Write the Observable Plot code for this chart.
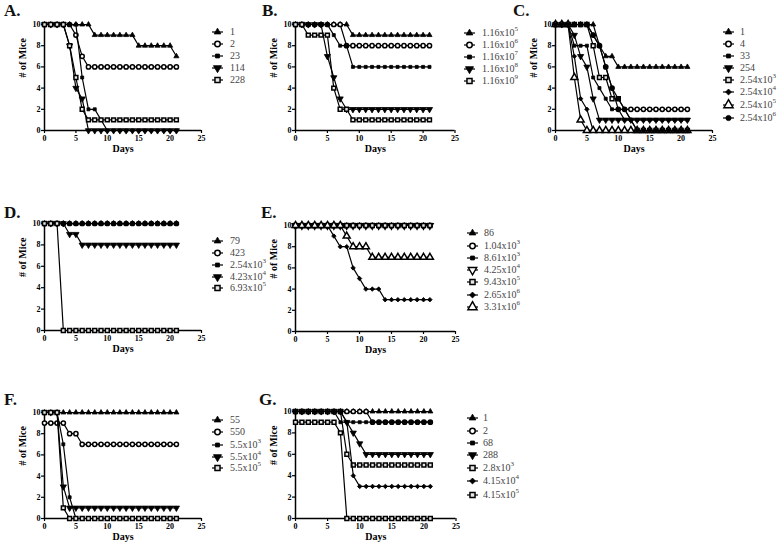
<!DOCTYPE html>
<html><head><meta charset="utf-8">
<script src="https://cdn.jsdelivr.net/npm/d3@7"></script>
<script src="https://cdn.jsdelivr.net/npm/@observablehq/plot@0.6"></script>
<style>
body{margin:0;background:#fff;}
#root{position:relative;width:778px;height:547px;overflow:hidden;background:#fff;font-family:"Liberation Serif","Times New Roman",serif;}
.pl{position:absolute;}
.pl text{font-family:"Liberation Serif","Times New Roman",serif !important;}
.plab{position:absolute;font-family:"Liberation Serif","Times New Roman",serif;font-weight:bold;font-size:17px;line-height:17px;color:#111;}
.lt{position:absolute;font-size:10px;line-height:10px;color:#444;white-space:nowrap;}
.lt sup{font-size:7px;line-height:0;position:relative;top:-1px;}
.ls{position:absolute;overflow:visible;}
</style>
</head><body><div id="root"></div>
<script>
// ---------- data ----------
const days = d3.range(0, 22);
const xTicks = [0, 5, 10, 15, 20, 25];
const yTicks = [0, 2, 4, 6, 8, 10];

// Panel A
const aLabels = ["1", "2", "23", "114", "228"];
const aS1 = [10,10,10,10,10,10,10,10,9,9,9,9,9,9,9,8,8,8,8,8,8,7];
const aS2 = [10,10,10,10,10,9,7,6,6,6,6,6,6,6,6,6,6,6,6,6,6,6];
const aS3 = [10,10,10,10,10,10,5,2,2,1,0,0,0,0,0,0,0,0,0,0,0,0];
const aS4 = [10,10,10,10,8,4,3,0,0,0,0,0,0,0,0,0,0,0,0,0,0,0];
const aS5 = [10,10,10,10,8,5,2,1,1,1,1,1,1,1,1,1,1,1,1,1,1,1];

// Panel B
const bLabels = ["1.16x10^5", "1.16x10^6", "1.16x10^7", "1.16x10^8", "1.16x10^9"];
const bS1 = [10,10,10,10,10,10,10,10,10,9,9,9,9,9,9,9,9,9,9,9,9,9];
const bS2 = [10,10,10,10,10,10,10,10,8,8,8,8,8,8,8,8,8,8,8,8,8,8];
const bS3 = [10,10,10,10,10,10,9,8,8,6,6,6,6,6,6,6,6,6,6,6,6,6];
const bS4 = [10,10,10,10,10,7,5,3,2,2,2,2,2,2,2,2,2,2,2,2,2,2];
const bS5 = [10,10,9,9,9,9,4,2,2,1,1,1,1,1,1,1,1,1,1,1,1,1];

// Panel C
const cLabels = ["1", "4", "33", "254", "2.54x10^3", "2.54x10^4", "2.54x10^5", "2.54x10^6"];
const cS1 = [10,10,10,10,10,10,10,8,7,7,6,6,6,6,6,6,6,6,6,6,6,6];
const cS2 = [10,10,10,10,10,10,9,8,6,4,2,2,2,2,2,2,2,2,2,2,2,2];
const cS3 = [10,10,10,8,8,8,5,4,3,2,2,1,1,1,1,1,1,1,1,1,1,1];
const cS4 = [10,10,10,9,7,6,3,1,1,1,1,1,1,1,1,1,1,1,1,1,1,1];
const cS5 = [10,10,10,10,10,10,8,5,5,3,3,null,null,0,0,0,0,0,0,0,0,0];
const cS6 = [10,10,10,7,3,2,0,0,0,0,0,0,0,0,0,0,0,0,0,0,0,0];
const cS7 = [10,10,10,5,1,0,0,0,0,0,0,0,0,0,0,0,0,0,0,0,0,0];
const cS8 = [10,10,10,10,10,10,9,8,6,4,3,2,1,0,0,0,0,0,0,0,0,0];

// Panel D
const dLabels = ["79", "423", "2.54x10^3", "4.23x10^4", "6.93x10^5"];
const dS1 = [10,10,10,10,10,10,10,10,10,10,10,10,10,10,10,10,10,10,10,10,10,10];
const dS2 = [10,10,10,10,10,10,10,10,10,10,10,10,10,10,10,10,10,10,10,10,10,10];
const dS3 = [10,10,10,10,10,10,10,10,10,10,10,10,10,10,10,10,10,10,10,10,10,10];
const dS4 = [10,10,10,10,9,9,8,8,8,8,8,8,8,8,8,8,8,8,8,8,8,8];
const dS5 = [10,10,10,0,0,0,0,0,0,0,0,0,0,0,0,0,0,0,0,0,0,0];

// Panel E
const eLabels = ["86", "1.04x10^3", "8.61x10^3", "4.25x10^4", "9.43x10^5", "2.65x10^6", "3.31x10^6"];
const eS1 = [10,10,10,10,10,10,10,10,10,10,10,10,10,10,10,10,10,10,10,10,10,10];
const eS2 = [10,10,10,10,10,10,10,10,10,10,10,10,10,10,10,10,10,10,10,10,10,10];
const eS3 = [10,10,10,10,10,10,10,10,10,10,10,10,10,10,10,10,10,10,10,10,10,10];
const eS4 = [10,10,10,10,10,10,10,10,10,10,10,10,10,10,10,10,10,10,10,10,10,10];
const eS5 = [10,10,10,10,10,10,10,10,10,10,10,10,10,10,10,10,10,10,10,10,10,10];
const eS6 = [10,10,10,10,10,10,9,8,8,6,5,4,4,4,3,3,3,3,3,3,3,3];
const eS7 = [10,10,10,10,10,10,10,10,9,8,8,8,7,7,7,7,7,7,7,7,7,7];

// Panel F
const fLabels = ["55", "550", "5.5x10^3", "5.5x10^4", "5.5x10^5"];
const fS1 = [10,10,10,10,10,10,10,10,10,10,10,10,10,10,10,10,10,10,10,10,10,10];
const fS2 = [9,9,9,9,8,8,7,7,7,7,7,7,7,7,7,7,7,7,7,7,7,7];
const fS3 = [10,10,10,7,2,0,0,0,0,0,0,0,0,0,0,0,0,0,0,0,0,0];
const fS4 = [10,10,10,3,1,1,1,1,1,1,1,1,1,1,1,1,1,1,1,1,1,1];
const fS5 = [10,10,10,1,0,0,0,0,0,0,0,0,0,0,0,0,0,0,0,0,0,0];

// Panel G
const gLabels = ["1", "2", "68", "288", "2.8x10^3", "4.15x10^4", "4.15x10^5"];
const gS1 = [10,10,10,10,10,10,10,10,10,10,10,10,10,10,10,10,10,10,10,10,10,10];
const gS2 = [10,10,10,10,10,10,10,10,10,10,10,10,9,9,9,9,9,9,9,9,9,9];
const gS3 = [10,10,10,10,10,10,10,9,9,9,9,9,9,9,9,9,9,9,9,9,9,9];
const gS4 = [10,10,10,10,10,10,10,10,9,8,7,6,6,6,6,6,6,6,6,6,6,6];
const gS5 = [10,10,10,10,10,10,10,10,6,5,5,5,5,5,5,5,5,5,5,5,5,5];
const gS6 = [10,10,10,10,10,10,10,10,9,4,3,3,3,3,3,3,3,3,3,3,3,3];
const gS7 = [9,9,9,9,9,9,9,8,0,0,0,0,0,0,0,0,0,0,0,0,0,0];

// ---------- symbols ----------
const sqrt3 = Math.sqrt(3);
const symTriDown = {draw(ctx, size) {
  const y = -Math.sqrt(size / (sqrt3 * 3));
  ctx.moveTo(0, -y * 2); ctx.lineTo(-sqrt3 * y, y); ctx.lineTo(sqrt3 * y, y); ctx.closePath();
}};
const symDiamond2 = {draw(ctx, size) {
  const r = Math.sqrt(size) / 2 * Math.SQRT2;
  ctx.moveTo(0, -r); ctx.lineTo(r, 0); ctx.lineTo(0, r); ctx.lineTo(-r, 0); ctx.closePath();
}};
const SYM = {
  triUp:  {type: d3.symbolTriangle, fill: "black", r: 1.9, sw: 0.8},
  circO:  {type: d3.symbolCircle, fill: "white", r: 2.1, sw: 1.5},
  sqF:    {type: d3.symbolSquare, fill: "black", r: 1.7, sw: 0.8},
  triDn:  {type: symTriDown, fill: "black", r: 2.3, sw: 0.8},
  triDnO: {type: symTriDown, fill: "white", r: 2.4, sw: 1.4},
  sqO:    {type: d3.symbolSquare, fill: "#e6e6e6", r: 2.2, sw: 1.5},
  diaF:   {type: symDiamond2, fill: "black", r: 1.8, sw: 0.8},
  triUpO: {type: d3.symbolTriangle, fill: "white", r: 2.6, sw: 1.5},
  circF:  {type: d3.symbolCircle, fill: "black", r: 2.0, sw: 0.8}
};

// ---------- layout ----------
const P5 = ["triUp", "circO", "sqF", "triDn", "sqO"];
const panels = [
  {tag: "A.", lx: 4, ly: 11, x0: 44, y10: 24, W: 157, H: 106, series: [aS1,aS2,aS3,aS4,aS5], labels: aLabels, syms: P5,
   symX: 212, textX: 230, rows: [32,44,56,68,80]},
  {tag: "B.", lx: 262, ly: 11, x0: 294.5, y10: 24, W: 159.5, H: 106, series: [bS1,bS2,bS3,bS4,bS5], labels: bLabels, syms: P5,
   symX: 464, textX: 482, rows: [33,45,57,69,81]},
  {tag: "C.", lx: 513, ly: 11, x0: 555, y10: 24, W: 157, H: 106, series: [cS1,cS2,cS3,cS4,cS5,cS6,cS7,cS8], labels: cLabels,
   syms: ["triUp","circO","sqF","triDn","sqO","diaF","triUpO","circF"], symX: 723, textX: 740, rows: [32,44,56,68,80,92,105,118]},
  {tag: "D.", lx: 4, ly: 213, x0: 44, y10: 223, W: 157, H: 107, series: [dS1,dS2,dS3,dS4,dS5], labels: dLabels, syms: P5,
   symX: 212, textX: 230, rows: [241,253,265,277,288]},
  {tag: "E.", lx: 261, ly: 213, x0: 295, y10: 225, W: 160, H: 106, series: [eS1,eS2,eS3,eS4,eS5,eS6,eS7], labels: eLabels,
   syms: ["triUp","circO","sqF","triDnO","sqO","diaF","triUpO"], symX: 467, textX: 484, rows: [233,246,258,270,282,295,307]},
  {tag: "F.", lx: 4, ly: 400, x0: 44, y10: 412, W: 157, H: 106, series: [fS1,fS2,fS3,fS4,fS5], labels: fLabels, syms: P5,
   symX: 212, textX: 230, rows: [420,432,445,457,468]},
  {tag: "G.", lx: 259, ly: 400, x0: 294.5, y10: 411, W: 160.5, H: 107, series: [gS1,gS2,gS3,gS4,gS5,gS6,gS7], labels: gLabels,
   syms: ["triUp","circO","sqF","triDn","sqO","diaF","sqO"], symX: 467, textX: 483, rows: [418,431,443,455,468,481,495]}
];

const root = document.getElementById("root");
const ML = 44, MT = 8, MR = 12, MB = 34;
const FF = "Liberation Serif";

function supHtml(s) { return s.replace(/\^(\d+)/, "<sup>$1</sup>"); }

panels.forEach(p => {
  const marks = [
    Plot.axisX({ticks: xTicks, tickSize: 3, tickPadding: 2, label: null, strokeWidth: 1.2, fontFamily: FF, fontWeight: "bold", fontSize: 8}),
    Plot.axisY({ticks: yTicks, tickSize: 3, tickPadding: 1, label: null, strokeWidth: 1.2, fontFamily: FF, fontWeight: "bold", fontSize: 8}),
    Plot.ruleX([0], {y1: 0, y2: 10, strokeWidth: 1.5, stroke: "black"}),
    Plot.ruleY([0], {x1: 0, x2: 25, strokeWidth: 1.5, stroke: "black"}),
    Plot.text(["Days"], {frameAnchor: "bottom", dy: 21, fontSize: 10, fontWeight: "bold", fontFamily: FF, fill: "black"}),
    Plot.text(["# of Mice"], {frameAnchor: "left", dx: -22, rotate: -90, fontSize: 10, fontWeight: "bold", fontFamily: FF, fill: "black"})
  ];
  p.series.forEach((vals, i) => {
    const pts = days.map((d, j) => ({day: d, n: vals[j]})).filter(q => q.n != null);
    const s = SYM[p.syms[i]];
    marks.push(Plot.line(pts, {x: "day", y: "n", stroke: "black", strokeWidth: 1.2}));
    marks.push(Plot.dot(pts, {x: "day", y: "n", symbol: s.type, r: s.r, fill: s.fill, stroke: "black", strokeWidth: s.sw}));
  });
  const svg = Plot.plot({
    width: p.W + ML + MR, height: p.H + MT + MB,
    marginLeft: ML, marginRight: MR, marginTop: MT, marginBottom: MB,
    x: {domain: [0, 25]}, y: {domain: [0, 10]},
    style: {fontFamily: FF, fontWeight: "bold", fontSize: "8px", background: "transparent", overflow: "visible", color: "black"},
    marks
  });
  svg.classList.add("pl");
  svg.style.left = (p.x0 - ML) + "px";
  svg.style.top = (p.y10 - MT) + "px";
  root.appendChild(svg);

  const lab = document.createElement("div");
  lab.className = "plab";
  lab.textContent = p.tag;
  lab.style.left = p.lx + "px";
  lab.style.top = (p.ly - 8.8) + "px";
  root.appendChild(lab);

  p.labels.forEach((t, i) => {
    const y = p.rows[i];
    const s = SYM[p.syms[i]];
    const ls = d3.create("svg").attr("class", "ls").attr("width", 12).attr("height", 10)
      .style("left", p.symX + "px").style("top", (y - 5) + "px");
    ls.append("line").attr("x1", 0).attr("x2", 11).attr("y1", 5).attr("y2", 5).attr("stroke", "black").attr("stroke-width", 1.2);
    ls.append("path").attr("transform", "translate(5.5,5)")
      .attr("d", d3.symbol(s.type, Math.PI * s.r * s.r * 1.7)())
      .attr("fill", s.fill).attr("stroke", "black").attr("stroke-width", s.sw);
    root.appendChild(ls.node());
    const tx = document.createElement("div");
    tx.className = "lt";
    tx.innerHTML = supHtml(t);
    tx.style.left = p.textX + "px";
    tx.style.top = (y - 5) + "px";
    root.appendChild(tx);
  });
});
</script>
</body></html>
